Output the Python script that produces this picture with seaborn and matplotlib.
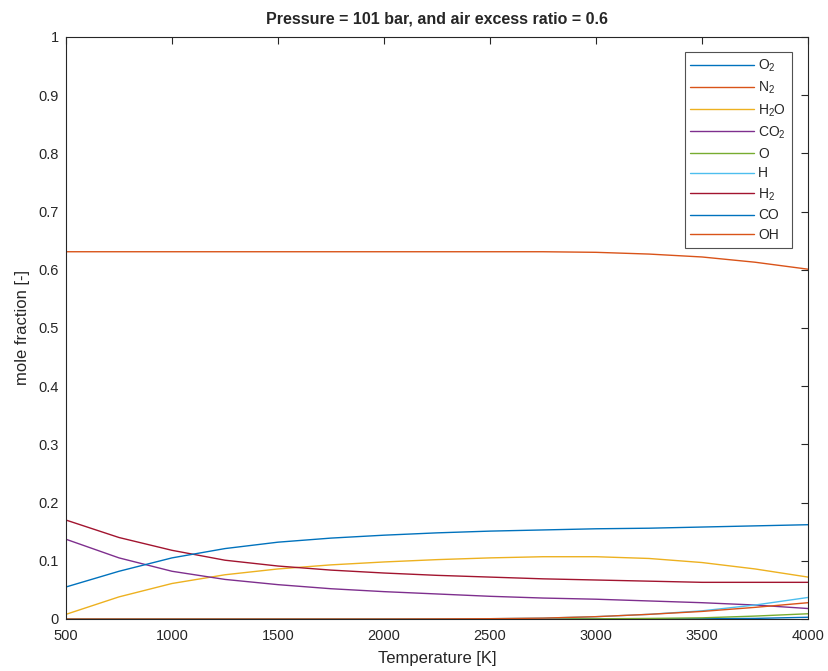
import numpy as np
import pandas as pd
import matplotlib
matplotlib.use("Agg")
import matplotlib.pyplot as plt
import seaborn as sns

# temperatures [K] and mole fractions
temps = [500, 750, 1000, 1250, 1500, 1750, 2000, 2250, 2500, 2750, 3000, 3250, 3500, 3750, 4000]

x_O2 = [0, 0, 0, 0, 0, 0, 0, 0, 0, 0, 0, 0.0002, 0.0005, 0.001, 0.003]
x_N2 = [0.631, 0.631, 0.631, 0.631, 0.631, 0.631, 0.631, 0.631, 0.631, 0.631, 0.630, 0.627, 0.622, 0.613, 0.601]
x_H2O = [0.008, 0.038, 0.061, 0.076, 0.086, 0.093, 0.098, 0.102, 0.105, 0.107, 0.107, 0.104, 0.097, 0.086, 0.072]
x_CO2 = [0.137, 0.105, 0.082, 0.068, 0.059, 0.052, 0.047, 0.043, 0.039, 0.036, 0.034, 0.031, 0.028, 0.024, 0.018]
x_O = [0, 0, 0, 0, 0, 0, 0, 0, 0, 0, 0.0003, 0.001, 0.002, 0.005, 0.009]
x_H = [0, 0, 0, 0, 0, 0, 0, 0.0002, 0.0005, 0.0015, 0.004, 0.008, 0.014, 0.024, 0.037]
x_H2 = [0.170, 0.140, 0.118, 0.101, 0.091, 0.084, 0.079, 0.075, 0.072, 0.069, 0.067, 0.065, 0.063, 0.063, 0.063]
x_CO = [0.055, 0.082, 0.105, 0.121, 0.132, 0.139, 0.144, 0.148, 0.151, 0.153, 0.155, 0.156, 0.158, 0.160, 0.162]
x_OH = [0, 0, 0, 0, 0, 0, 0, 0.0002, 0.0005, 0.0015, 0.004, 0.008, 0.013, 0.020, 0.028]

labels = [r"O$_2$", r"N$_2$", r"H$_2$O", r"CO$_2$", "O", "H", r"H$_2$", "CO", "OH"]
series = [x_O2, x_N2, x_H2O, x_CO2, x_O, x_H, x_H2, x_CO, x_OH]

# matlab default line colours
matlab = ["#0072BD", "#D95319", "#EDB120", "#7E2F8E", "#77AC30", "#4DBEEE", "#A2142F"]
palette = {lab: matlab[i % 7] for i, lab in enumerate(labels)}

df = pd.concat([
    pd.DataFrame({"T": temps, "x": vals, "species": lab})
    for lab, vals in zip(labels, series)
], ignore_index=True)

sns.set_style("white")
plt.rcParams["font.family"] = ["Liberation Sans", "DejaVu Sans"]
plt.rcParams["mathtext.fontset"] = "custom"
plt.rcParams["mathtext.rm"] = "Liberation Sans"

fig = plt.figure(figsize=(8.29, 6.71), dpi=100)
ax = fig.add_axes([0.0796, 0.0775, 0.8951, 0.8674])

sns.lineplot(data=df, x="T", y="x", hue="species", hue_order=labels,
             palette=palette, linewidth=1.0, ax=ax)

ax.set_xlim(500, 4000)
ax.set_ylim(0, 1)
ax.set_xticks(np.arange(500, 4001, 500))
ax.set_yticks(np.arange(0, 1.01, 0.1))
ax.set_yticklabels(["0"] + [f"{v:.1f}" for v in np.arange(0.1, 0.95, 0.1)] + ["1"])
ax.tick_params(direction="in", length=5, labelsize=10.5, colors="#262626",
               top=True, right=True)
ax.tick_params(axis="x", pad=7)
ax.tick_params(axis="y", pad=5)
for s in ax.spines.values():
    s.set_color("#262626")
    s.set_linewidth(0.8)

ax.set_xlabel("Temperature [K]", fontsize=12, color="#262626", labelpad=6)
ax.set_ylabel("mole fraction [-]", fontsize=12, color="#262626", labelpad=6)
ax.set_title("Pressure = 101 bar, and air excess ratio = 0.6",
             fontsize=11.5, fontweight="bold", pad=10)

leg = ax.legend(loc="upper right", fontsize=10, frameon=True, fancybox=False,
                handlelength=4.6, labelspacing=0.42, borderpad=0.4,
                handletextpad=0.3, borderaxespad=0,
                bbox_to_anchor=(0.978, 0.974))
leg.get_frame().set_edgecolor("#262626")
leg.get_frame().set_linewidth(0.8)

fig.savefig("out.png", dpi=100)
